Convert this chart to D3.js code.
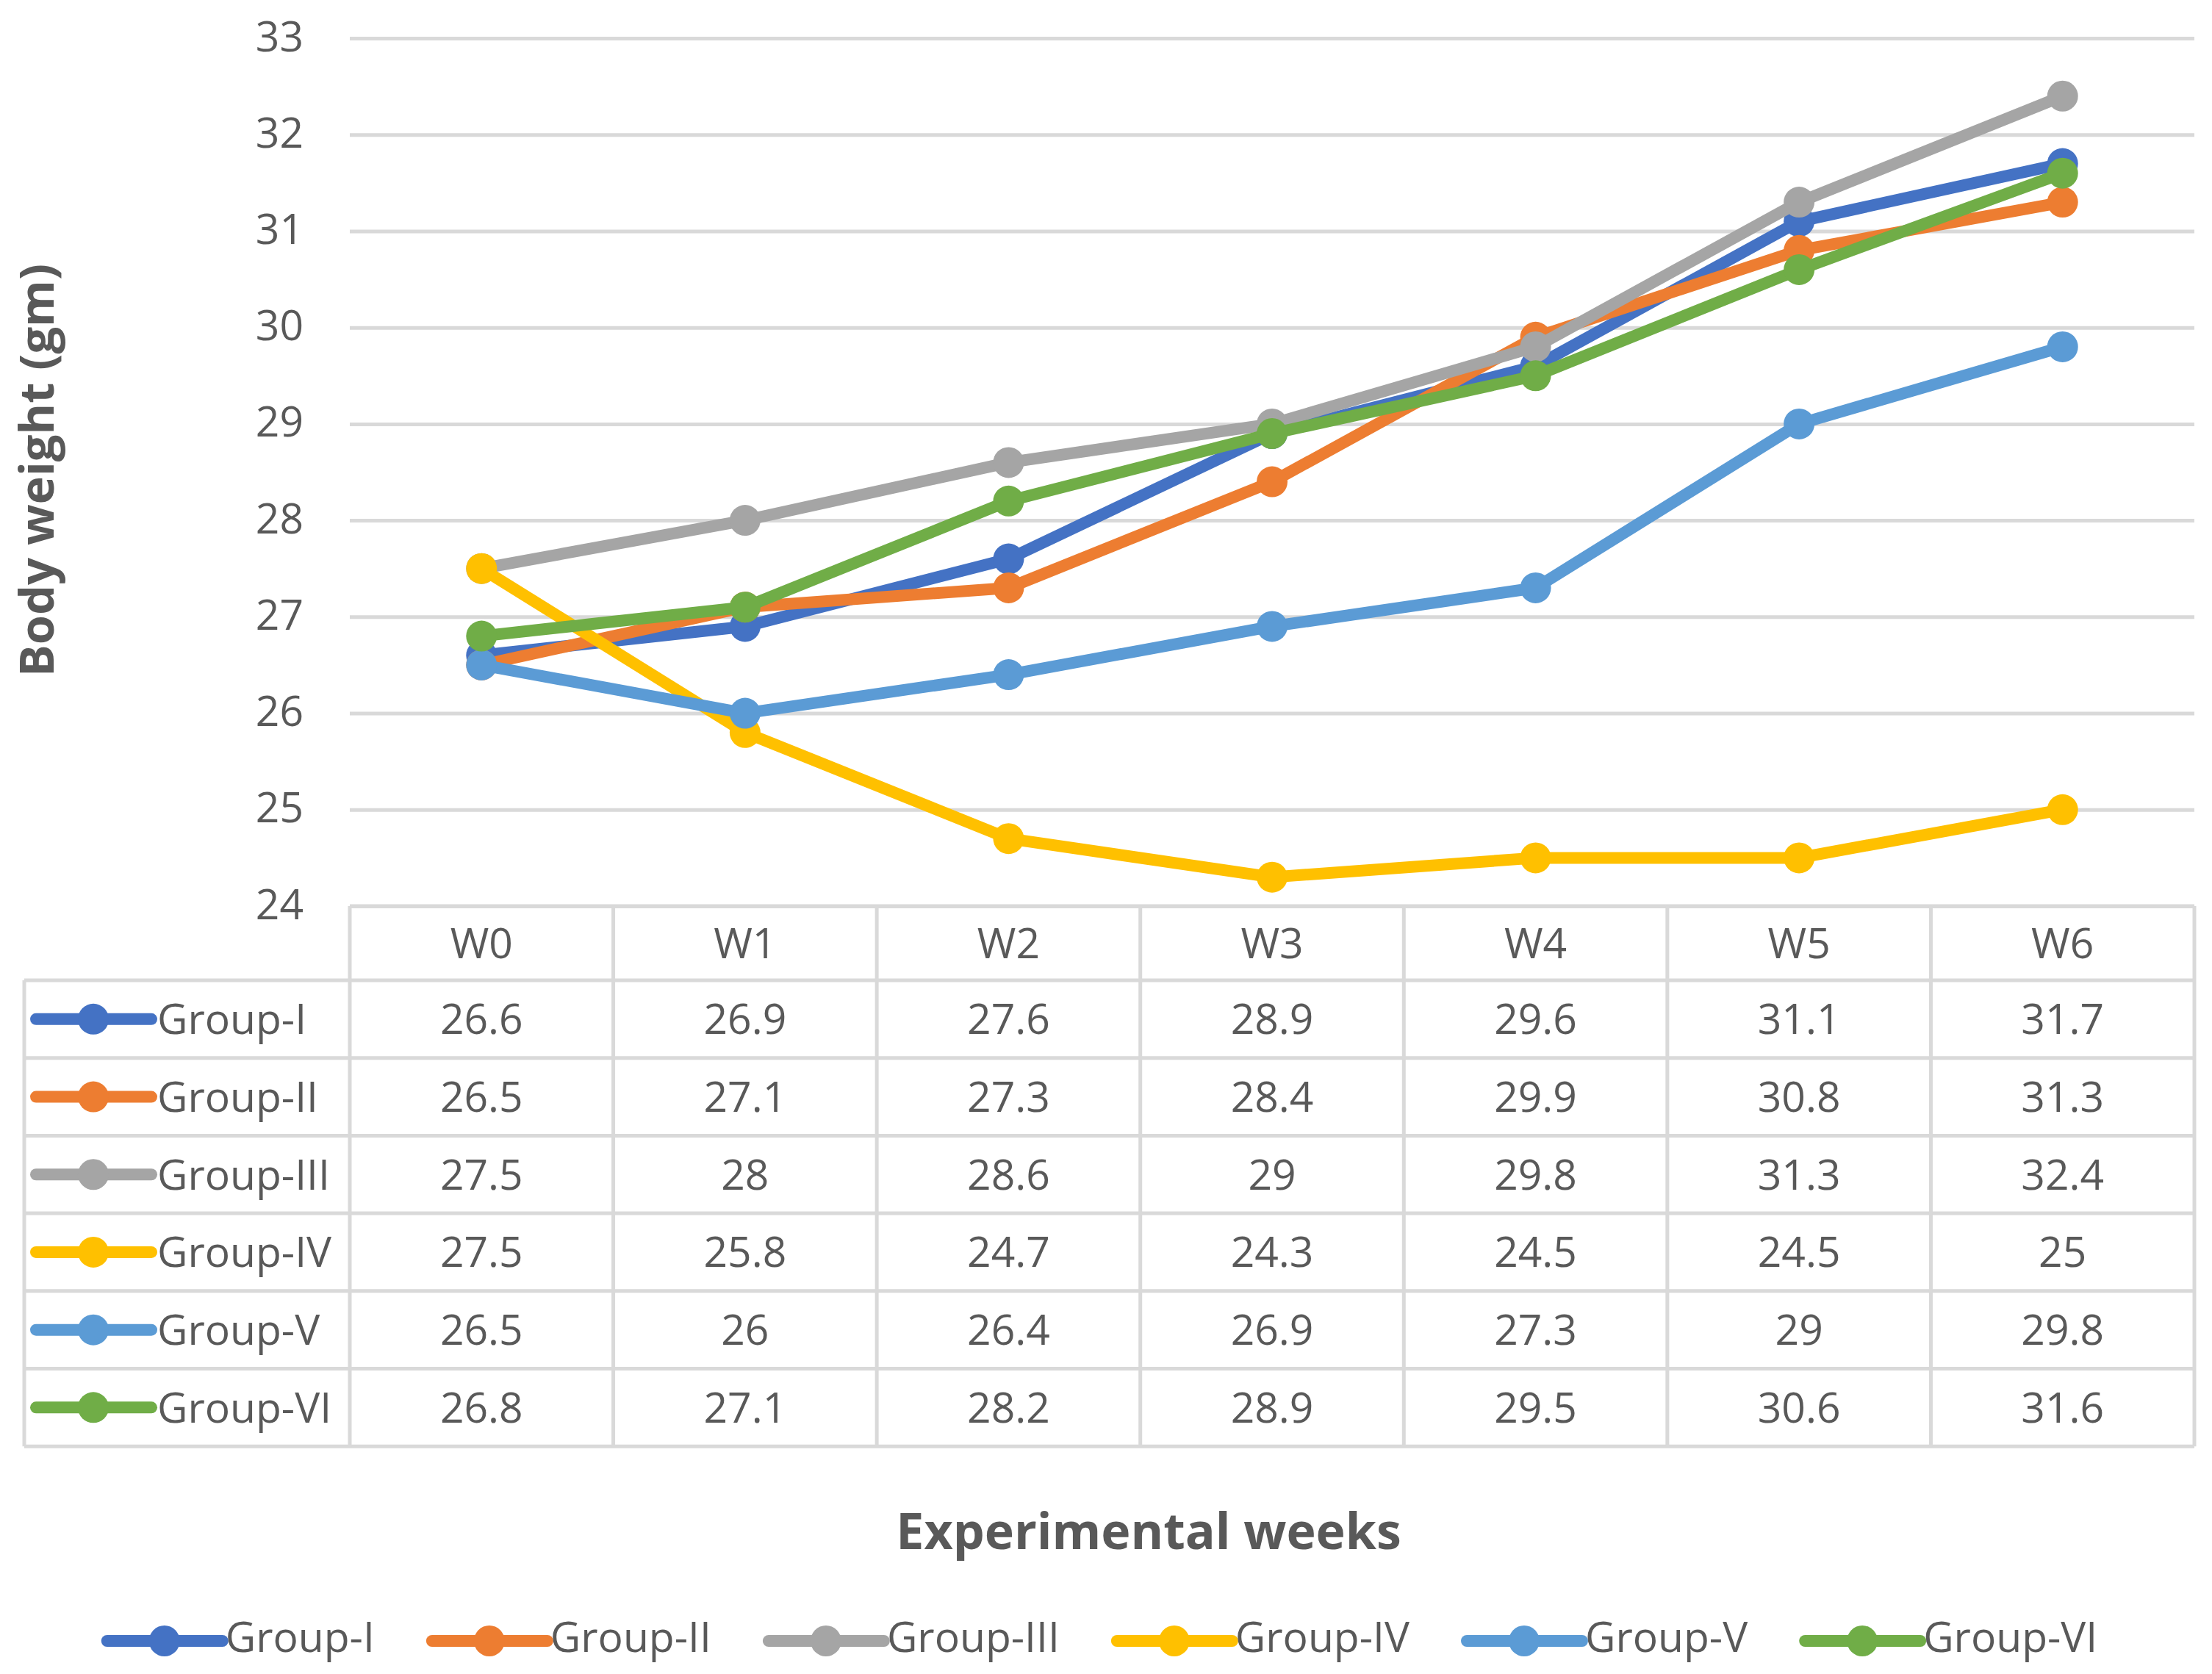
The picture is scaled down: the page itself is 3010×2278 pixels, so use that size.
<!DOCTYPE html>
<html>
<head>
<meta charset="utf-8">
<script src="https://cdn.jsdelivr.net/npm/d3@7"></script>
<style>
  html, body { margin: 0; padding: 0; background: #fff; }
  svg { display: block; }
  text { font-family: "Open Sans", "Noto Sans", sans-serif; fill: #595959; }
</style>
</head>
<body>
<div id="chart"></div>
<script>
  // 周次（类目）
  var weeks = ['W0', 'W1', 'W2', 'W3', 'W4', 'W5', 'W6']
  // 各组名称
  var groupNames = ['Group-I', 'Group-II', 'Group-III', 'Group-IV', 'Group-V', 'Group-VI']
  // 各组体重数据
  var groupI = [26.6, 26.9, 27.6, 28.9, 29.6, 31.1, 31.7]
  var groupII = [26.5, 27.1, 27.3, 28.4, 29.9, 30.8, 31.3]
  var groupIII = [27.5, 28, 28.6, 29, 29.8, 31.3, 32.4]
  var groupIV = [27.5, 25.8, 24.7, 24.3, 24.5, 24.5, 25]
  var groupV = [26.5, 26, 26.4, 26.9, 27.3, 29, 29.8]
  var groupVI = [26.8, 27.1, 28.2, 28.9, 29.5, 30.6, 31.6]
  // y轴刻度
  var yTicks = [24, 25, 26, 27, 28, 29, 30, 31, 32, 33]
  var yTitle = 'Body weight (gm)'
  var xTitle = 'Experimental weeks'

  var series = [groupI, groupII, groupIII, groupIV, groupV, groupVI]
  var colors = ['#4472c4', '#ed7d31', '#a5a5a5', '#ffc000', '#5b9bd5', '#70ad47']

  var W = 3010
  var H = 2278
  var plotLeft = 476
  var plotRight = 2986
  var plotTop = 52
  var tableTop = 1233
  var headerH = 101
  var rowH = 105.7
  var tableLeft = 33
  var fontSize = 57
  var lineW = 16
  var markerR = 21
  var borderColor = '#d9d9d9'

  var svg = d3.select('#chart').append('svg')
    .attr('width', W)
    .attr('height', H)

  var x = d3.scaleBand().domain(weeks).range([plotLeft, plotRight])
  var y = d3.scaleLinear().domain([24, 33]).range([tableTop, plotTop])
  function cx(i) { return x(weeks[i]) + x.bandwidth() / 2 }

  // 网格线和y轴标签
  var yAxis = svg.append('g')
    .attr('transform', 'translate(' + plotLeft + ',0)')
    .call(d3.axisLeft(y).tickValues(yTicks).tickSize(-(plotRight - plotLeft)).tickPadding(63).tickFormat(d3.format('d')))
  yAxis.select('.domain').remove()
  yAxis.selectAll('line').attr('stroke', borderColor).attr('stroke-width', 5)
  yAxis.selectAll('text')
    .attr('font-size', fontSize)
    .attr('font-family', '"Open Sans", sans-serif')
    .attr('fill', '#595959')
    .attr('dy', '0.3em')

  // y轴标题
  svg.append('text')
    .attr('transform', 'translate(73,640) rotate(-90)')
    .attr('text-anchor', 'middle')
    .attr('font-size', 65)
    .attr('font-weight', 'bold')
    .text(yTitle)

  // 折线和标记点，按系列顺序绘制
  var line = d3.line()
    .x(function(d, i) { return cx(i) })
    .y(function(d) { return y(d) })

  series.forEach(function(data, k) {
    var g = svg.append('g').attr('class', 'series series' + k)
    g.append('path')
      .attr('d', line(data))
      .attr('fill', 'none')
      .attr('stroke', colors[k])
      .attr('stroke-width', lineW)
      .attr('stroke-linejoin', 'round')
      .attr('stroke-linecap', 'round')
    g.selectAll('circle')
      .data(data)
      .enter()
      .append('circle')
      .attr('cx', function(d, i) { return cx(i) })
      .attr('cy', function(d) { return y(d) })
      .attr('r', markerR)
      .attr('fill', colors[k])
  })

  // 图例标记（线+圆点）
  function legendKey(g, x0, yc, color) {
    g.append('line')
      .attr('x1', x0).attr('x2', x0 + 157)
      .attr('y1', yc).attr('y2', yc)
      .attr('stroke', color)
      .attr('stroke-width', lineW)
      .attr('stroke-linecap', 'round')
    g.append('circle')
      .attr('cx', x0 + 78).attr('cy', yc)
      .attr('r', markerR)
      .attr('fill', color)
  }

  // 数据表
  var table = svg.append('g').attr('class', 'data-table')
  var tableBottom = tableTop + headerH + rowH * series.length
  var colEdges = weeks.map(function(w) { return x(w) }).concat([plotRight])

  // 表头文字
  table.selectAll('.head-text')
    .data(weeks)
    .enter()
    .append('text')
    .attr('class', 'head-text')
    .attr('x', function(d, i) { return cx(i) })
    .attr('y', tableTop + headerH / 2 + fontSize * 0.357)
    .attr('text-anchor', 'middle')
    .attr('font-size', fontSize)
    .text(function(d) { return d })

  series.forEach(function(data, k) {
    var rowY = tableTop + headerH + rowH * k
    var yc = rowY + rowH / 2
    legendKey(table, 49, yc, colors[k])
    table.append('text')
      .attr('x', 214)
      .attr('y', yc + fontSize * 0.357)
      .attr('font-size', fontSize)
      .text(groupNames[k])
    table.selectAll('.val' + k)
      .data(data)
      .enter()
      .append('text')
      .attr('class', 'val' + k)
      .attr('x', function(d, i) { return cx(i) })
      .attr('y', yc + fontSize * 0.357)
      .attr('text-anchor', 'middle')
      .attr('font-size', fontSize)
      .text(function(d) { return d })
  })

  // 表格边框
  var borders = table.append('g')
    .attr('stroke', borderColor)
    .attr('stroke-width', 5)
    .attr('fill', 'none')
  borders.append('line')
    .attr('x1', plotLeft).attr('x2', plotRight)
    .attr('y1', tableTop).attr('y2', tableTop)
  d3.range(series.length + 1).forEach(function(k) {
    var ry = tableTop + headerH + rowH * k
    borders.append('line')
      .attr('x1', tableLeft).attr('x2', plotRight)
      .attr('y1', ry).attr('y2', ry)
  })
  borders.append('line')
    .attr('x1', tableLeft).attr('x2', tableLeft)
    .attr('y1', tableTop + headerH).attr('y2', tableBottom)
  colEdges.forEach(function(ex) {
    borders.append('line')
      .attr('x1', ex).attr('x2', ex)
      .attr('y1', tableTop).attr('y2', tableBottom)
  })

  // x轴标题
  svg.append('text')
    .attr('x', 1563)
    .attr('y', 2108)
    .attr('text-anchor', 'middle')
    .attr('font-size', 68)
    .attr('font-weight', 'bold')
    .text(xTitle)

  // 底部图例
  var legend = svg.append('g').attr('class', 'legend')
  var gap = 78
  var lx = 0
  groupNames.forEach(function(name, k) {
    var item = legend.append('g').attr('transform', 'translate(' + lx + ',0)')
    legendKey(item, 0, 2233, colors[k])
    var t = item.append('text')
      .attr('x', 161)
      .attr('y', 2248)
      .attr('font-size', fontSize)
      .text(name)
    lx += 161 + t.node().getComputedTextLength() + gap
  })
  var totalW = lx - gap
  legend.attr('transform', 'translate(' + (1500 - totalW / 2) + ',0)')
</script>
</body>
</html>
